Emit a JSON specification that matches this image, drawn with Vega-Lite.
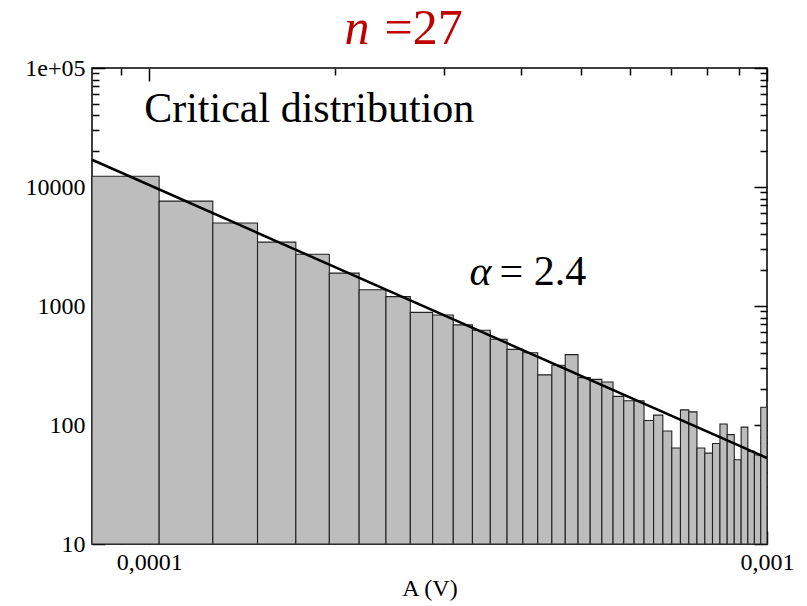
{
  "$schema": "https://vega.github.io/schema/vega-lite/v6.json",
  "width": 675,
  "height": 476,
  "autosize": {"type": "none"},
  "padding": {"left": 92, "top": 68, "right": 40, "bottom": 62},
  "background": "white",
  "config": {
    "view": {"stroke": "black", "strokeWidth": 1.5},
    "font": "Liberation Serif",
    "axis": {
      "domain": false,
      "grid": false,
      "labelFont": "Liberation Serif",
      "titleFont": "Liberation Serif",
      "labelColor": "black",
      "titleColor": "black",
      "tickColor": "black",
      "tickWidth": 1.5,
      "titleFontWeight": "normal",
      "labelFlush": false,
      "labelOverlap": false
    }
  },
  "datasets": {
    "bins": [
      {"a0": 0.0000808, "a1": 0.00010378, "count": 12320},
      {"a0": 0.00010378, "a1": 0.00012676, "count": 7610},
      {"a0": 0.00012676, "a1": 0.00014974, "count": 4980},
      {"a0": 0.00014974, "a1": 0.00017272, "count": 3440},
      {"a0": 0.00017272, "a1": 0.0001957, "count": 2720},
      {"a0": 0.0001957, "a1": 0.00021868, "count": 1890},
      {"a0": 0.00021868, "a1": 0.00024166, "count": 1370},
      {"a0": 0.00024166, "a1": 0.00026464, "count": 1200},
      {"a0": 0.00026464, "a1": 0.00028762, "count": 884},
      {"a0": 0.00028762, "a1": 0.0003106, "count": 839},
      {"a0": 0.0003106, "a1": 0.00033358, "count": 694},
      {"a0": 0.00033358, "a1": 0.00035656, "count": 626},
      {"a0": 0.00035656, "a1": 0.00037954, "count": 525},
      {"a0": 0.00037954, "a1": 0.00040252, "count": 432},
      {"a0": 0.00040252, "a1": 0.0004255, "count": 405},
      {"a0": 0.0004255, "a1": 0.00044848, "count": 264},
      {"a0": 0.00044848, "a1": 0.00047146, "count": 318},
      {"a0": 0.00047146, "a1": 0.00049444, "count": 390},
      {"a0": 0.00049444, "a1": 0.00051742, "count": 250},
      {"a0": 0.00051742, "a1": 0.0005404, "count": 242},
      {"a0": 0.0005404, "a1": 0.00056338, "count": 230},
      {"a0": 0.00056338, "a1": 0.00058636, "count": 174},
      {"a0": 0.00058636, "a1": 0.00060934, "count": 160},
      {"a0": 0.00060934, "a1": 0.00063232, "count": 160},
      {"a0": 0.00063232, "a1": 0.0006553, "count": 109},
      {"a0": 0.0006553, "a1": 0.00067828, "count": 121},
      {"a0": 0.00067828, "a1": 0.00070126, "count": 89},
      {"a0": 0.00070126, "a1": 0.00072424, "count": 64},
      {"a0": 0.00072424, "a1": 0.00074722, "count": 134},
      {"a0": 0.00074722, "a1": 0.0007702, "count": 129},
      {"a0": 0.0007702, "a1": 0.00079318, "count": 64},
      {"a0": 0.00079318, "a1": 0.00081616, "count": 58},
      {"a0": 0.00081616, "a1": 0.00083914, "count": 70},
      {"a0": 0.00083914, "a1": 0.00086212, "count": 102},
      {"a0": 0.00086212, "a1": 0.0008851, "count": 83},
      {"a0": 0.0008851, "a1": 0.00090808, "count": 51},
      {"a0": 0.00090808, "a1": 0.00093106, "count": 96},
      {"a0": 0.00093106, "a1": 0.00095404, "count": 60},
      {"a0": 0.00095404, "a1": 0.00097702, "count": 56},
      {"a0": 0.00097702, "a1": 0.001, "count": 141}
    ],
    "fit": [
      {"A": 0.0000808, "y": 16940},
      {"A": 0.001, "y": 52.8}
    ]
  },
  "layer": [
    {
      "data": {"name": "bins"},
      "mark": {"type": "bar", "fill": "#bdbdbd", "stroke": "#222222", "strokeWidth": 1.1},
      "encoding": {
        "x": {
          "field": "a0", "type": "quantitative",
          "scale": {"type": "log", "domain": [0.0000808, 0.001], "nice": false},
          "axis": {
            "orient": "bottom", "values": [0.0001, 0.001], "ticks": false,
            "labelExpr": "datum.value < 0.0005 ? '0,0001' : '0,001'",
            "labelFontSize": 24, "labelPadding": 6,
            "title": "A (V)", "titleFontSize": 24, "titlePadding": 2
          }
        },
        "x2": {"field": "a1"},
        "y": {
          "field": "count", "type": "quantitative",
          "scale": {"type": "log", "domain": [10, 100000], "nice": false},
          "axis": {
            "orient": "left", "values": [10, 100, 1000, 10000, 100000], "ticks": false,
            "labelExpr": "datum.value == 100000 ? '1e+05' : format(datum.value, 'd')",
            "labelFontSize": 24, "labelPadding": 7, "title": null
          }
        },
        "y2": {"datum": 10}
      }
    },
    {
      "data": {"name": "fit"},
      "mark": {"type": "line", "stroke": "black", "strokeWidth": 2.5},
      "encoding": {
        "x": {
          "field": "A", "type": "quantitative",
          "scale": {"type": "log", "domain": [0.0000808, 0.001], "nice": false},
          "axis": {"orient": "top", "values": [0.0001, 0.001], "labels": false, "tickSize": -13, "title": null}
        },
        "y": {
          "field": "y", "type": "quantitative",
          "scale": {"type": "log", "domain": [10, 100000], "nice": false},
          "axis": {"orient": "right", "values": [10, 100, 1000, 10000, 100000], "labels": false, "tickSize": -13, "title": null}
        }
      }
    },
    {
      "data": {"values": [{"A": 0.00009815, "y": 34860, "t": "Critical distribution"}]},
      "mark": {"type": "text", "align": "left", "baseline": "alphabetic", "fontSize": 42, "font": "Liberation Serif", "color": "black"},
      "encoding": {
        "x": {
          "field": "A", "type": "quantitative",
          "scale": {"type": "log", "domain": [0.0000808, 0.001], "nice": false},
          "axis": {"orient": "bottom", "values": [0.0001, 0.001], "labels": false, "tickSize": -13, "title": null}
        },
        "y": {
          "field": "y", "type": "quantitative",
          "scale": {"type": "log", "domain": [10, 100000], "nice": false},
          "axis": {"orient": "left", "values": [10, 100, 1000, 10000, 100000], "labels": false, "tickSize": -13, "title": null}
        },
        "text": {"field": "t"}
      }
    },
    {
      "data": {"values": [{"A": 0.00033, "y": 1507, "t": "α"}]},
      "mark": {"type": "text", "align": "left", "baseline": "alphabetic", "fontSize": 42, "font": "Liberation Serif", "fontStyle": "italic", "color": "black"},
      "encoding": {
        "x": {
          "field": "A", "type": "quantitative",
          "scale": {"type": "log", "domain": [0.0000808, 0.001], "nice": false},
          "axis": {"orient": "bottom", "values": [0.00009, 0.0002, 0.0003, 0.0004, 0.0005, 0.0006, 0.0007, 0.0008, 0.0009], "labels": false, "tickSize": -7, "title": null}
        },
        "y": {
          "field": "y", "type": "quantitative",
          "scale": {"type": "log", "domain": [10, 100000], "nice": false},
          "axis": {"orient": "left", "values": [20, 30, 40, 50, 60, 70, 80, 90, 200, 300, 400, 500, 600, 700, 800, 900, 2000, 3000, 4000, 5000, 6000, 7000, 8000, 9000, 20000, 30000, 40000, 50000, 60000, 70000, 80000, 90000], "labels": false, "tickSize": -7, "title": null}
        },
        "text": {"field": "t"}
      }
    },
    {
      "data": {"values": [{"A": 0.000369, "y": 1507, "t": "= 2.4"}]},
      "mark": {"type": "text", "align": "left", "baseline": "alphabetic", "fontSize": 42, "font": "Liberation Serif", "color": "black"},
      "encoding": {
        "x": {
          "field": "A", "type": "quantitative",
          "scale": {"type": "log", "domain": [0.0000808, 0.001], "nice": false},
          "axis": {"orient": "top", "values": [0.00009, 0.0002, 0.0003, 0.0004, 0.0005, 0.0006, 0.0007, 0.0008, 0.0009], "labels": false, "tickSize": -7, "title": null}
        },
        "y": {
          "field": "y", "type": "quantitative",
          "scale": {"type": "log", "domain": [10, 100000], "nice": false},
          "axis": {"orient": "right", "values": [20, 30, 40, 50, 60, 70, 80, 90, 200, 300, 400, 500, 600, 700, 800, 900, 2000, 3000, 4000, 5000, 6000, 7000, 8000, 9000, 20000, 30000, 40000, 50000, 60000, 70000, 80000, 90000], "labels": false, "tickSize": -7, "title": null}
        },
        "text": {"field": "t"}
      }
    },
    {
      "data": {"values": [{"A": 0.000207, "y": 159700, "t": "n"}]},
      "mark": {"type": "text", "align": "left", "baseline": "alphabetic", "fontSize": 50, "font": "Liberation Serif", "fontStyle": "italic", "color": "#c00000", "clip": false},
      "encoding": {
        "x": {"field": "A", "type": "quantitative", "scale": {"type": "log", "domain": [0.0000808, 0.001], "nice": false}, "axis": null},
        "y": {"field": "y", "type": "quantitative", "scale": {"type": "log", "domain": [10, 100000], "nice": false}, "axis": null},
        "text": {"field": "t"}
      }
    },
    {
      "data": {"values": [{"A": 0.0002404, "y": 159700, "t": "=27"}]},
      "mark": {"type": "text", "align": "left", "baseline": "alphabetic", "fontSize": 50, "font": "Liberation Serif", "color": "#c00000", "clip": false},
      "encoding": {
        "x": {"field": "A", "type": "quantitative", "scale": {"type": "log", "domain": [0.0000808, 0.001], "nice": false}, "axis": null},
        "y": {"field": "y", "type": "quantitative", "scale": {"type": "log", "domain": [10, 100000], "nice": false}, "axis": null},
        "text": {"field": "t"}
      }
    }
  ],
  "resolve": {"axis": {"x": "independent", "y": "independent"}}
}
